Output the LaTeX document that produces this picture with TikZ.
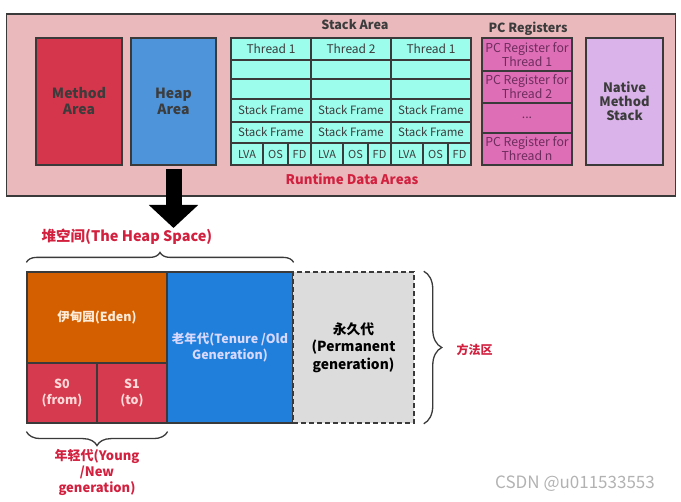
\documentclass[tikz,border=0pt]{standalone}
\usepackage{fontspec}
\setmainfont{Noto Sans CJK SC}
\usetikzlibrary{arrows.meta,decorations.pathreplacing}
\definecolor{rdapink}{HTML}{E9B9BC}
\definecolor{edgegray}{HTML}{3A3A3A}
\definecolor{textgray}{HTML}{3C3C3C}
\definecolor{methodred}{HTML}{D6364C}
\definecolor{heapblue}{HTML}{4D94DB}
\definecolor{stackcyan}{HTML}{9CFDEC}
\definecolor{pcpink}{HTML}{DE6FB6}
\definecolor{pctext}{HTML}{6E2C5E}
\definecolor{nativelilac}{HTML}{D9B3EA}
\definecolor{labelred}{HTML}{D2203F}
\definecolor{edenorange}{HTML}{D35F00}
\definecolor{survred}{HTML}{D63A4E}
\definecolor{oldblue}{HTML}{1F7FDB}
\definecolor{permgray}{HTML}{DCDCDC}
\newcommand{\rdablock}[6]{
	\node [block, #5, minimum width=#3pt, minimum height=#4pt] (#1) at (#2) {#6};}
\newcommand{\stackcol}[3]{
	\node [cell, minimum width=80pt, minimum height=22pt, font=\fontsize{12}{14}\selectfont] (#1thread) at (#2,49) {#3};
	\node [cell, minimum width=80pt, minimum height=19pt] (#1empa) at (#2,69.5) {};
	\node [cell, minimum width=80pt, minimum height=20pt] (#1empb) at (#2,89) {};
	\node [cell, minimum width=80pt, minimum height=23pt] (#1fra) at (#2,110.5) {Stack Frame};
	\node [cell, minimum width=80pt, minimum height=21pt] (#1frb) at (#2,132.5) {Stack Frame};
	\node [cell, minimum width=32pt, minimum height=22pt, font=\fontsize{11}{13}\selectfont] (#1lva) at (#2-24,154) {LVA};
	\node [cell, minimum width=25pt, minimum height=22pt, font=\fontsize{11}{13}\selectfont] (#1os) at (#2+4.5,154) {OS};
	\node [cell, minimum width=23pt, minimum height=22pt, font=\fontsize{11}{13}\selectfont] (#1fd) at (#2+28.5,154) {FD};}
\tikzset{
	block/.style={draw=edgegray, line width=1.2pt, inner sep=0pt, align=center},
	area/.style={block, text=textgray, font=\bfseries\fontsize{14}{16}\selectfont},
	cell/.style={block, fill=stackcyan, text=textgray, font=\fontsize{11.5}{13}\selectfont},
	pcreg/.style={block, fill=pcpink, text=pctext, minimum width=90pt, font=\fontsize{12.3}{14}\selectfont},
	heapblock/.style={block, text=white, font=\bfseries\fontsize{12.5}{16}\selectfont},
	redlabel/.style={text=labelred, align=center, font=\bfseries\fontsize{13}{16}\selectfont},
	darklabel/.style={text=textgray, font=\bfseries\fontsize{12.6}{14}\selectfont},
	bigarrow/.style={line width=16pt, -{Triangle[width=48pt,length=23pt]}, shorten <=3pt},
	bracket/.style={decorate, draw=edgegray, line width=1.3pt}
}
\begin{document}
\begin{tikzpicture}[x=1pt,y=-1pt]
	\useasboundingbox (0,0) rectangle (681,502);
	\rdablock{rda}{341,105}{669}{182}{fill=rdapink}{}
	\rdablock{method}{79,101.5}{86}{127}{area, fill=methodred}{Method\\Area}
	\rdablock{heap}{173.5,101.5}{85}{127}{area, fill=heapblue}{Heap\\Area}
	\stackcol{sa}{271}{Thread 1}
	\stackcol{sb}{351}{Thread 2}
	\stackcol{sc}{431}{Thread 1}
	\node [pcreg, minimum height=33pt] (pca) at (527,54.5) {PC Register for\\Thread 1};
	\node [pcreg, minimum height=32pt] (pcb) at (527,87) {PC Register for\\Thread 2};
	\node [pcreg, minimum height=30pt] (pcdots) at (527,118) {...};
	\node [pcreg, minimum height=32pt] (pcn) at (527,149) {PC Register for\\Thread n};
	\rdablock{native}{624.5,101.5}{77}{127}{area, fill=nativelilac, font=\bfseries\fontsize{13}{14}\selectfont}{Native\\Method\\Stack}
	\node [darklabel] (stacktitle) at (355,25) {Stack Area};
	\node [darklabel] (pctitle) at (528,29) {PC Registers};
	\node [redlabel, font=\bfseries\fontsize{13.3}{16}\selectfont] (rdatitle) at (352,179) {Runtime Data Areas};
	\coordinate (arrowtip) at (173.5,228);
	\draw [bigarrow] (heap.south) -- (arrowtip);

	\node [heapblock, fill=edenorange, minimum width=140pt, minimum height=91pt, text=white!85!orange] (eden) at (97,317.5) {伊甸园(Eden)};
	\node [heapblock, fill=survred, minimum width=70pt, minimum height=60pt, text=white!85!red] (szero) at (62,393) {S0\\(from)};
	\node [heapblock, fill=survred, minimum width=70pt, minimum height=60pt, text=white!85!red] (sone) at (132,393) {S1\\(to)};
	\node [heapblock, fill=oldblue, minimum width=126pt, minimum height=151pt, text=white!85!blue] (old) at (230,347.5) {老年代(Tenure /Old\\Generation)};
	\node [heapblock, fill=permgray, dash pattern=on 5pt off 3pt, line width=1.5pt, minimum width=121pt, minimum height=151pt, text=black, font=\bfseries\fontsize{13.8}{17.5}\selectfont] (perm) at (353.5,347.5) {永久代\\(Permanent\\generation)};
	\draw [bracket, decoration={brace, amplitude=10pt}] ([yshift=9pt]eden.north west) -- ([yshift=9pt]old.north east);
	\node [redlabel, font=\bfseries\fontsize{14.5}{16}\selectfont] (heapspace) at (127,237) {堆空间(The Heap Space)};
	\draw [bracket, decoration={brace, amplitude=18pt}] ([xshift=9pt]perm.north east) -- ([xshift=9pt]perm.south east);
	\node [redlabel, font=\bfseries\fontsize{12}{14}\selectfont, anchor=west] (methodarea) at (453,350) {方法区};
	\draw [bracket, decoration={brace, amplitude=14pt}] ([yshift=-8pt]sone.south east) -- ([yshift=-8pt]szero.south west);
	\node [redlabel] (young) at (97,472) {年轻代(Young\\/New\\generation)};
	\node [text=gray!60, font=\fontsize{17}{20}\selectfont] (watermark) at (575,484) {CSDN @u011533553};
\end{tikzpicture}
\end{document}
